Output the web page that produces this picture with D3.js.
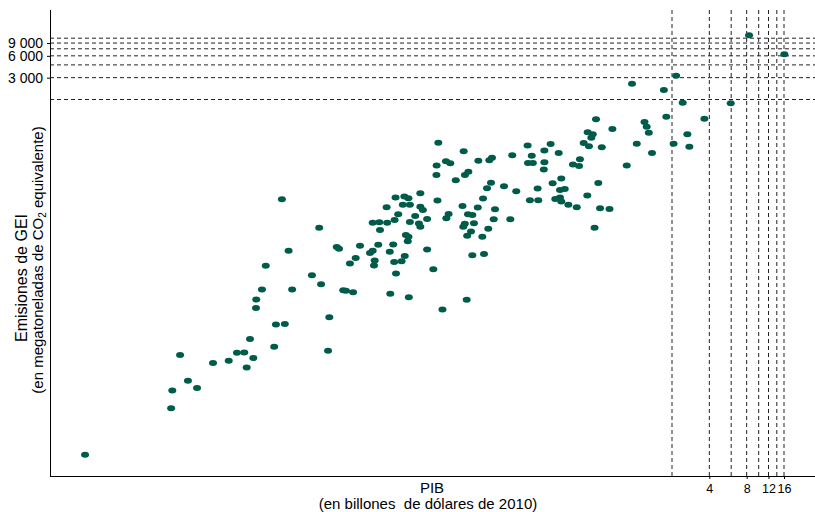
<!DOCTYPE html>
<html>
<head>
<meta charset="utf-8">
<script src="https://cdn.jsdelivr.net/npm/d3@7"></script>
<style>
  body { margin: 0; background: #fff; }
  text { font-family: "Liberation Sans", Arial, sans-serif; fill: #000; }
</style>
</head>
<body>
<svg id="chart" width="815" height="512"></svg>
<script>
// PIB, en billones de dólares de 2010
const gdp = [
  0.000037, 0.000183, 0.000187, 0.000216, 0.000250, 0.000296, 0.000398, 0.000533,
  0.000621, 0.000711, 0.000744, 0.000791, 0.000841, 0.000884, 0.000889, 0.000988,
  0.00106, 0.00124, 0.00128, 0.00151, 0.00143, 0.00162, 0.00173, 0.00250,
  0.00296, 0.00286, 0.00345, 0.00337, 0.00396, 0.00413, 0.00447, 0.00470,
  0.00536, 0.00506, 0.00563, 0.00610, 0.00734, 0.00772, 0.00801, 0.00791,
  0.00856, 0.00772, 0.00873, 0.0101, 0.00884, 0.0100, 0.0106, 0.0107,
  0.0113, 0.0115, 0.0116, 0.0118, 0.0119, 0.0124, 0.0132, 0.0135,
  0.0139, 0.0140, 0.0143, 0.0150, 0.0148, 0.0150, 0.0154, 0.0154,
  0.0151, 0.0170, 0.0182, 0.0187, 0.0187, 0.0187, 0.0196, 0.0212,
  0.0212, 0.0238, 0.0282, 0.0442, 0.0491, 0.0610, 0.0261, 0.0253,
  0.0252, 0.0257, 0.0301, 0.0326, 0.0361, 0.0418, 0.0409, 0.0428,
  0.0456, 0.0303, 0.0316, 0.0453, 0.0491, 0.0415, 0.0427, 0.0479,
  0.0446, 0.0506, 0.0549, 0.0543, 0.0591, 0.0599, 0.0645, 0.0660,
  0.0673, 0.0707, 0.0694, 0.0730, 0.0748, 0.0884, 0.0994, 0.103,
  0.111, 0.137, 0.138, 0.151, 0.143, 0.148, 0.165, 0.167,
  0.185, 0.187, 0.187, 0.210, 0.218, 0.229, 0.244, 0.250,
  0.273, 0.250, 0.256, 0.256, 0.292, 0.318, 0.356, 0.362,
  0.341, 0.388, 0.415, 0.418, 0.459, 0.447, 0.428, 0.488,
  0.509, 0.526, 0.543, 0.627, 0.475, 8.36, 16.1, 2.16,
  0.952, 1.72, 2.44, 5.95, 1.80, 3.65, 1.20, 1.25,
  0.661, 1.30, 2.66, 1.04, 2.06, 2.76, 1.38, 0.863
];

// Emisiones de GEI, en megatoneladas de CO2 equivalente
const ghg = [
  0.019, 0.083, 0.146, 0.449, 0.199, 0.158, 0.349, 0.375,
  0.483, 0.488, 0.303, 0.746, 0.409, 2.01, 2.62, 3.60,
  7.63, 0.585, 1.19, 1.21, 63.3, 12.3, 3.60, 5.68,
  4.27, 25.5, 1.49, 0.515, 13.9, 13.1, 3.53, 3.45,
  3.31, 8.21, 9.83, 14.5, 11.5, 12.3, 9.03, 7.70,
  14.9, 30.1, 30.5, 30.1, 23.9, 49.1, 11.9, 3.14,
  15.0, 8.66, 32.8, 66.6, 5.98, 39.3, 8.86, 53.3,
  69.2, 10.4, 20.4, 19.3, 16.7, 65.3, 53.3, 30.8,
  2.81, 37.3, 29.2, 26.5, 76.6, 50.0, 45.1, 33.9,
  12.8, 6.87, 1.91, 2.60, 10.7, 11.1, 381, 185,
  136, 60.9, 211, 198, 116, 290, 50.9, 136,
  151, 34.7, 39.7, 39.3, 38.5, 26.5, 29.1, 22.8,
  19.9, 29.6, 215, 48.5, 19.3, 64.5, 89.7, 24.8,
  218, 237, 107, 33.6, 46.1, 95.6, 33.6, 256,
  81.6, 347, 200, 200, 61.3, 252, 88.6, 61.3,
  162, 296, 205, 366, 105, 63.9, 275, 85.0,
  87.8, 66.6, 58.7, 122, 53.3, 190, 182, 225,
  49.1, 378, 71.0, 530, 497, 447, 340, 801,
  106, 47.6, 329, 46.5, 25.5, 11490, 6290, 3190,
  2480, 2030, 1355, 1330, 869, 816, 735, 633,
  588, 523, 497, 369, 369, 336, 275, 184
];

const xGrid = [2, 4, 6, 8, 10, 12, 14, 16];
const xTicks = [4, 8, 12, 16];
const yGrid = [1500, 3000, 4500, 6000, 7500, 9000, 10500];
const yTicks = [3000, 6000, 9000];

const LEFT = 50, RIGHT = 815, TOP = 10, BOTTOM = 476;
const DOT_COLOR = "#005c4a";
const DASH = "4,3";

const svg = d3.select("#chart");

const x = d3.scaleLog().domain([2, 16]).range([672, 784]);
const y = d3.scaleLog().domain([1500, 10500]).range([99.5, 38.2]);

const fmt = d3.formatLocale({ decimal: ",", thousands: "\u00a0", grouping: [3], currency: ["", ""] }).format(",");

// rejilla discontinua
svg.append("g")
  .selectAll("line")
  .data(yGrid)
  .enter()
  .append("line")
  .attr("x1", LEFT)
  .attr("x2", RIGHT)
  .attr("y1", d => y(d))
  .attr("y2", d => y(d))
  .style("stroke", "#222")
  .style("stroke-dasharray", DASH);

svg.append("g")
  .selectAll("line")
  .data(xGrid)
  .enter()
  .append("line")
  .attr("x1", d => x(d))
  .attr("x2", d => x(d))
  .attr("y1", TOP)
  .attr("y2", BOTTOM)
  .style("stroke", "#222")
  .style("stroke-dasharray", DASH);

// ejes
const yAxis = svg.append("g")
  .attr("transform", `translate(${LEFT},0)`)
  .call(d3.axisLeft(y).tickValues(yTicks).tickSize(3).tickPadding(4).tickFormat(fmt));
yAxis.select(".domain").remove();
yAxis.selectAll(".tick text")
  .style("font-size", "14px")
  .style("font-family", "'Liberation Sans', Arial, sans-serif");

const xAxis = svg.append("g")
  .attr("transform", `translate(0,${BOTTOM})`)
  .call(d3.axisBottom(x).tickValues(xTicks).tickSize(3).tickPadding(5).tickFormat(d3.format("d")));
xAxis.select(".domain").remove();
xAxis.selectAll(".tick text")
  .style("font-size", "12.5px")
  .style("font-family", "'Liberation Sans', Arial, sans-serif");

svg.append("line")
  .attr("x1", LEFT + 0.5).attr("x2", LEFT + 0.5)
  .attr("y1", TOP).attr("y2", BOTTOM)
  .style("stroke", "#000");

svg.append("line")
  .attr("x1", LEFT).attr("x2", RIGHT)
  .attr("y1", BOTTOM + 0.5).attr("y2", BOTTOM + 0.5)
  .style("stroke", "#000");

// puntos
svg.append("g")
  .selectAll("ellipse")
  .data(d3.zip(gdp, ghg))
  .enter()
  .append("ellipse")
  .attr("cx", d => x(d[0]))
  .attr("cy", d => y(d[1]))
  .attr("rx", 4)
  .attr("ry", 3)
  .style("fill", DOT_COLOR);

// títulos
svg.append("text")
  .attr("x", 432)
  .attr("y", 493)
  .style("font-size", "15px")
  .style("text-anchor", "middle")
  .text("PIB");

svg.append("text")
  .attr("x", 428)
  .attr("y", 509)
  .style("font-size", "15px")
  .style("text-anchor", "middle")
  .style("white-space", "pre")
  .text("(en billones  de dólares de 2010)");

const yTitle = svg.append("g")
  .attr("transform", "rotate(-90)");

yTitle.append("text")
  .attr("x", -278)
  .attr("y", 27)
  .style("font-size", "16px")
  .style("text-anchor", "middle")
  .text("Emisiones de GEI");

const sub = yTitle.append("text")
  .attr("x", -260)
  .attr("y", 43)
  .style("font-size", "15px")
  .style("text-anchor", "middle");
sub.append("tspan").text("(en megatoneladas de CO");
sub.append("tspan").attr("dy", 3).style("font-size", "10px").text("2");
sub.append("tspan").attr("dy", -3).text(" equivalente)");
</script>
</body>
</html>
